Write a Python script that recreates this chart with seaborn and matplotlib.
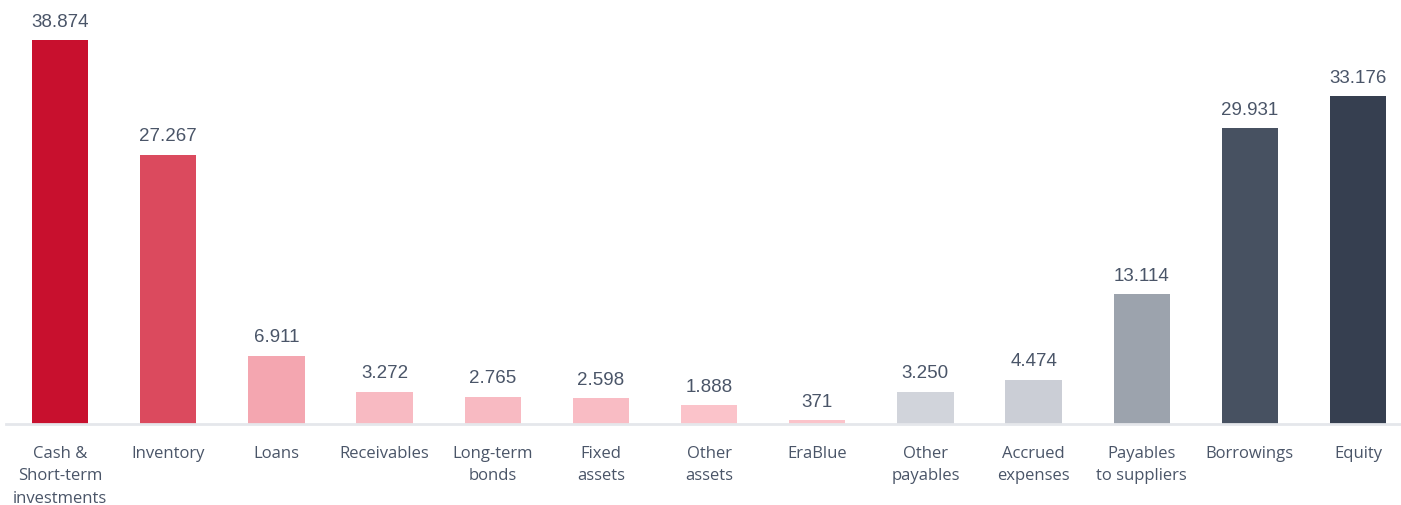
import matplotlib
matplotlib.use("Agg")
import matplotlib.pyplot as plt
import seaborn as sns
import pandas as pd

categories = ["Cash &\nShort-term\ninvestments", "Inventory", "Loans", "Receivables",
              "Long-term\nbonds", "Fixed\nassets", "Other\nassets", "EraBlue",
              "Other\npayables", "Accrued\nexpenses", "Payables\nto suppliers",
              "Borrowings", "Equity"]
values = [38874, 27267, 6911, 3272, 2765, 2598, 1888, 371, 3250, 4474, 13114, 29931, 33176]
colors = ["#C8102E", "#DB4A5E", "#F4A6B0", "#F8BAC2", "#F8BAC2", "#F9BCC4", "#FBC3CA",
          "#FBC3CA", "#D1D4DB", "#CBCED6", "#9CA3AD", "#475161", "#363F50"]

df = pd.DataFrame({"category": categories, "value": values})

sns.set_theme(style="white")
plt.rcParams['font.family'] = ['Liberation Sans', 'DejaVu Sans']

fig = plt.figure(figsize=(14.01, 5.06), dpi=100)
ax = fig.add_axes([6/1401, 1 - 425/506, 1395/1401, 425/506])

sns.barplot(data=df, x="category", y="value", hue="category", palette=colors,
            width=0.52, legend=False, ax=ax, saturation=1, linewidth=0)

ax.set_xlim(-0.5, 12.397)
ax.set_ylim(0, 43025)
ax.set_xlabel("")
ax.set_ylabel("")
ax.set_yticks([])
for s in ["top", "right", "left"]:
    ax.spines[s].set_visible(False)
ax.spines["bottom"].set_color("#E5E7EB")
ax.spines["bottom"].set_linewidth(2)

ax.tick_params(axis="x", length=0, pad=15, labelsize=12, colors="#4A5568")
for lab in ax.get_xticklabels():
    lab.set_fontfamily(["Open Sans", "DejaVu Sans"])
    lab.set_linespacing(1.55)
    lab.set_verticalalignment("top")

for i, v in enumerate(values):
    txt = f"{v:,}".replace(",", ".")
    ax.annotate(txt, (i, v), xytext=(0, 7.5), textcoords="offset points",
                ha="center", va="bottom", fontsize=13.5, color="#4A5568")

fig.savefig("out.png", dpi=100)
